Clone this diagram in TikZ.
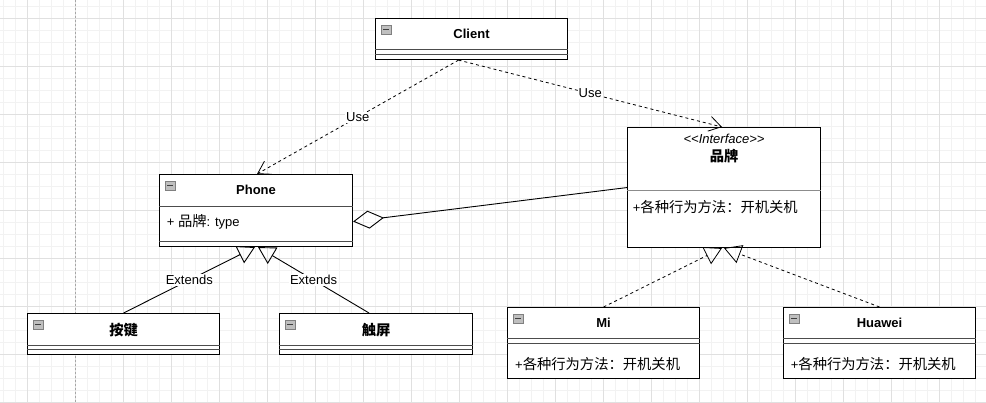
\documentclass[tikz,border=0pt]{standalone}
\usepackage{fontspec}
\setmainfont{Liberation Sans}
\newfontfamily\cjk[Scale=1.1]{Noto Sans CJK SC}
\usetikzlibrary{arrows.meta,calc}
\newcommand\umlsize{\fontsize{13}{15}\selectfont}

\tikzset{
  cls/.style={draw,line width=1.1pt,fill=white,anchor=north west,inner sep=0pt},
  sep/.style={black!70,line width=1pt},
  title/.style={font=\umlsize\bfseries},
  zhtitle/.style={font=\umlsize\bfseries\cjk},
  txt/.style={anchor=west,inner sep=0pt},
  lbl/.style={fill=white,inner sep=1pt},
  use/.style={dashed,line width=0.8pt,-{Straight Barb[length=12pt,width=15pt]}},
  agg/.style={line width=0.9pt,{Diamond[open,length=31pt,width=18pt]}-},
  ext/.style={line width=0.9pt,-{Triangle[open,length=17pt,width=19pt]}},
  impl/.style={dashed,line width=0.8pt,-{Triangle[open,length=17pt,width=19pt]}},
  icon/.style={draw=black!50,fill=black!25,line width=0.6pt}
}

\begin{document}
\begin{tikzpicture}[x=1pt,y=-1pt,font=\umlsize]
\useasboundingbox (0,0) rectangle (986,402);
\fill[white] (0,0) rectangle (986,402);
\begin{scope}
  \clip (0,0) rectangle (986,402);
  \draw[black!5,step=12pt,xshift=2.7pt,yshift=-6pt] (-24,-24) grid (1010,430);
  \draw[black!12,step=48pt,xshift=26.7pt,yshift=-18pt] (-48,-48) grid (1010,430);
  \draw[black!35,dash pattern=on 2pt off 2pt,line width=0.6pt] (75,0) -- (75,402);
\end{scope}

% classes
\node[cls,minimum width=192pt,minimum height=41pt] (client) at (375,18) {};
\node[cls,minimum width=193pt,minimum height=72pt] (phone) at (159,174) {};
\node[cls,minimum width=193pt,minimum height=120pt] (brand) at (627,127) {};
\node[cls,minimum width=192pt,minimum height=41pt] (key) at (27,313) {};
\node[cls,minimum width=193pt,minimum height=41pt] (touch) at (279,313) {};
\node[cls,minimum width=192pt,minimum height=71pt] (mi) at (507,307) {};
\node[cls,minimum width=192pt,minimum height=71pt] (huawei) at (783,307) {};

\foreach \b/\d in {client/31,client/36,phone/32,phone/67,key/32,key/36,touch/32,touch/36,mi/31,mi/36,huawei/31,huawei/36}
  \draw[sep] ([yshift=-\d pt]\b.north west) -- ([yshift=-\d pt]\b.north east);
\draw[black!45,line width=1pt] ([yshift=-63pt]brand.north west) -- ([yshift=-63pt]brand.north east);

\foreach \b in {client,phone,key,touch,mi,huawei}{
  \draw[icon] ([shift={(6pt,-7pt)}]\b.north west) rectangle ++(10pt,-9pt);
  \draw[black!75,line width=0.9pt] ([shift={(8pt,-11.5pt)}]\b.north west) -- ++(6pt,0pt);
}

% names and members
\node[title] (clientname) at ($(client.north)+(0,16)$) {Client};
\node[title] (phonename) at ($(phone.north)+(0,16)$) {Phone};
\node[txt] (phoneattr) at ($(phone.north west)+(7.7,48)$) {+ {\cjk 品牌}: type};
\node[font=\umlsize\itshape] (brandtype) at ($(brand.north)+(0,12)$) {{<}{<}Interface{>}{>}};
\node[zhtitle] (brandname) at ($(brand.north)+(0,29)$) {品牌};
\node[txt] (brandop) at ($(brand.north west)+(5.7,80)$) {+{\cjk 各种行为方法：开机关机}};
\node[zhtitle] (keyname) at ($(key.north)+(0,17)$) {按键};
\node[zhtitle] (touchname) at ($(touch.north)+(0,17)$) {触屏};
\node[title] (miname) at ($(mi.north)+(0,16)$) {Mi};
\node[txt] (miop) at ($(mi.north west)+(8,57)$) {+{\cjk 各种行为方法：开机关机}};
\node[title] (huaweiname) at ($(huawei.north)+(0,16)$) {Huawei};
\node[txt] (huaweiop) at ($(huawei.north west)+(7.7,57)$) {+{\cjk 各种行为方法：开机关机}};

% relations
\coordinate (c0) at ([xshift=-13pt]client.south);
\draw[use] (c0) -- node[lbl]{Use} ([xshift=98pt]phone.north west);
\draw[use] (c0) -- node[lbl]{Use} ([xshift=95pt]brand.north west);
\draw[agg] ([yshift=-11pt]phone.east) -- (brand.west);
\draw[ext] (key.north) -- node[lbl]{Extends} ([xshift=96pt]phone.south west);
\draw[ext] ([xshift=-7pt]touch.north) -- node[lbl]{Extends} ([xshift=99pt]phone.south west);
\draw[impl] (mi.north) -- ([xshift=95pt]brand.south west);
\draw[impl] (huawei.north) -- ([xshift=97pt]brand.south west);
\end{tikzpicture}
\end{document}
